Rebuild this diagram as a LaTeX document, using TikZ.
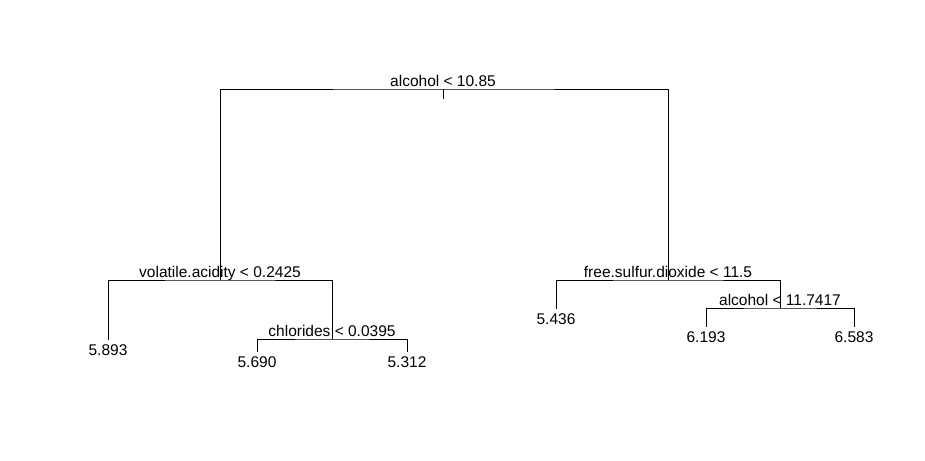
\documentclass[tikz,border=0pt]{standalone}
\usepackage{fontspec}
\setmainfont{Liberation Sans}
\usepackage{tikz}
\usetikzlibrary{positioning}

\begin{document}
\begin{tikzpicture}[x=1pt,y=-1pt,line width=0.9pt,
  split/.style={anchor=base,inner sep=0pt,yshift=3pt,font=\fontsize{15.5}{18}\selectfont},
  leaf/.style={anchor=north,inner sep=4pt,font=\fontsize{15.5}{18}\selectfont}]
\useasboundingbox (0,0) rectangle (925,460);
% split points
\coordinate (root) at (443,89);
\coordinate (vol) at (220,280);
\coordinate (chl) at (332,339);
\coordinate (sul) at (668,280);
\coordinate (alc) at (780,308);
% split labels
\node[split] (troot) at (root) {alcohol < 10.85};
\node[split] (tvol) at (vol) {volatile.acidity < 0.2425};
\node[split] (tchl) at (chl) {chlorides < 0.0395};
\node[split] (tsul) at (sul) {free.sulfur.dioxide < 11.5};
\node[split] (talc) at (alc) {alcohol < 11.7417};
% leaves
\node[leaf] (n5893) at (108,340) {5.893};
\node[leaf] (n5690) at (257,352) {5.690};
\node[leaf] (n5312) at (407,352) {5.312};
\node[leaf] (n5436) at (556,309) {5.436};
\node[leaf] (n6193) at (706,327) {6.193};
\node[leaf] (n6583) at (854,327) {6.583};
% branches
\draw (vol) |- (root) -| (sul); \draw (root) -- ++(0,10);
\draw (n5893.north) |- (vol) -| (chl);
\draw (n5690.north) |- (chl) -| (n5312.north);
\draw (n5436.north) |- (sul) -| (alc);
\draw (n6193.north) |- (alc) -| (n6583.north);
\end{tikzpicture}
\end{document}
